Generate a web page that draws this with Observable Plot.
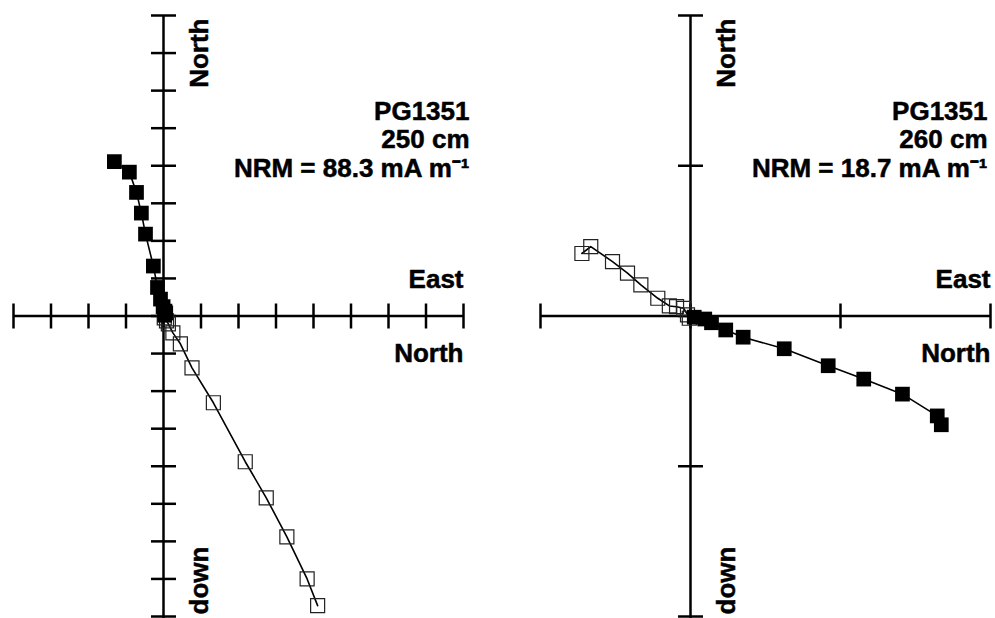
<!DOCTYPE html>
<html>
<head>
<meta charset="utf-8">
<script src="https://cdn.jsdelivr.net/npm/d3@7"></script>
<script src="https://cdn.jsdelivr.net/npm/@observablehq/plot@0.6"></script>
<style>
  html, body { margin: 0; padding: 0; background: #fff; }
  #chart { display: flex; width: 995px; height: 618px; overflow: hidden; }
  #chart svg { overflow: visible; }
</style>
</head>
<body>
<div id="chart"></div>
<script>
// Demagnetisation steps, NRM first; components in mA m^-1.
// Filled squares: horizontal plane (East, North); open squares: vertical plane (North, down).

// Core PG1351, 250 cm
const east250  = [-13.1, -9.1, -7.2, -5.9, -4.8, -2.7, -1.6, -0.8, -0.1, 0.4, 0.6, 0.3];
const north250 = [41.1, 38.3, 32.9, 27.4, 21.8, 13.3, 7.6, 4.5, 2.5, 1.3, 0.8, 0.2];
const down250  = [77.1, 70.0, 58.8, 48.4, 38.8, 23.1, 13.8, 7.4, 4.5, 2.1, 1.3, 0.5];

// Core PG1351, 260 cm
const east260  = [16.72, 16.45, 14.13, 11.55, 9.18, 6.25, 3.51, 2.35, 1.40, 0.95, 0.25];
const north260 = [-7.24, -6.65, -5.20, -4.20, -3.31, -2.18, -1.41, -0.93, -0.45, -0.20, -0.08];
const down260  = [-4.16, -4.62, -3.62, -2.85, -2.07, -1.18, -0.67, -0.62, -0.51, -0.07, 0.15];

// Axis extents and tick positions (mA m^-1)
const xDomain250 = [-40, 80], yDomain250 = [-80, 80];
const xTicks250 = d3.range(-40, 81, 10), yTicks250 = d3.range(-80, 81, 10);
const xDomain260 = [-10, 20], yDomain260 = [-20, 20];
const xTicks260 = [-10, 0, 10, 20], yTicks260 = [-20, -10, 0, 10, 20];

const label250 = "PG1351\n250 cm\nNRM = 88.3 mA m\u207B\u00B9";
const label260 = "PG1351\n260 cm\nNRM = 18.7 mA m\u207B\u00B9";

const FONT = "'Liberation Sans', Arial, Helvetica, sans-serif";
const TICK = 12.5;
const vTick = {draw(ctx) { ctx.moveTo(0, -TICK); ctx.lineTo(0, TICK); }};
const hTick = {draw(ctx) { ctx.moveTo(-TICK, 0); ctx.lineTo(TICK, 0); }};

function zijderveld({east, north, down, xDomain, yDomain, xTicks, yTicks,
                     width, marginLeft, marginRight, label, labelDx}) {
  const steps = east.map((e, i) => ({e, n: north[i], up: -down[i]}));
  const txt = {fill: "black", stroke: "black", strokeWidth: 0.5, fontSize: 26,
               fontWeight: "bold", fontFamily: FONT};
  return Plot.plot({
    width, height: 618,
    marginTop: 15, marginBottom: 2, marginLeft, marginRight,
    x: {domain: xDomain, axis: null},
    y: {domain: yDomain, axis: null},
    style: {background: "white", overflow: "visible"},
    marks: [
      // axes through the origin
      Plot.ruleY([0], {stroke: "black", strokeWidth: 2.5}),
      Plot.ruleX([0], {stroke: "black", strokeWidth: 2.5, insetBottom: -2}),
      Plot.dot(xTicks, {x: d => d, y: () => 0, symbol: vTick, fill: "none", stroke: "black", strokeWidth: 2.5}),
      Plot.dot(yTicks, {x: () => 0, y: d => d, symbol: hTick, fill: "none", stroke: "black", strokeWidth: 2.5}),
      // vertical-plane projection
      Plot.line(steps, {x: "n", y: "up", stroke: "black", strokeWidth: 1.6}),
      Plot.dot(steps, {x: "n", y: "up", symbol: "square", r: 7.9, fill: "none", stroke: "#222", strokeWidth: 1.2}),
      // horizontal-plane projection
      Plot.line(steps, {x: "e", y: "n", stroke: "black", strokeWidth: 1.6}),
      Plot.dot(steps, {x: "e", y: "n", symbol: "square", r: 8.3, fill: "black", stroke: "none"}),
      // axis labels
      Plot.text(["North"], {x: () => 0, y: () => yDomain[1], text: d => d, rotate: -90,
        textAnchor: "end", lineAnchor: "middle", dx: 36, dy: 3, ...txt}),
      Plot.text(["down"], {x: () => 0, y: () => yDomain[0], text: d => d, rotate: -90,
        textAnchor: "start", lineAnchor: "middle", dx: 36, dy: -2, ...txt}),
      Plot.text(["East"], {x: () => xDomain[1], y: () => 0, text: d => d,
        textAnchor: "end", lineAnchor: "bottom", dy: -28, ...txt}),
      Plot.text(["North"], {x: () => xDomain[1], y: () => 0, text: d => d,
        textAnchor: "end", lineAnchor: "bottom", dy: 46, ...txt}),
      // sample annotation
      Plot.text([label], {text: d => d, frameAnchor: "top-right", textAnchor: "end",
        lineAnchor: "top", lineHeight: 1.1, dx: labelDx, dy: 84, ...txt})
    ]
  });
}

const chart = document.getElementById("chart");
chart.append(zijderveld({
  east: east250, north: north250, down: down250,
  xDomain: xDomain250, yDomain: yDomain250, xTicks: xTicks250, yTicks: yTicks250,
  width: 497, marginLeft: 13, marginRight: 34, label: label250, labelDx: 6
}));
chart.append(zijderveld({
  east: east260, north: north260, down: down260,
  xDomain: xDomain260, yDomain: yDomain260, xTicks: xTicks260, yTicks: yTicks260,
  width: 498, marginLeft: 43, marginRight: 5, label: label260, labelDx: -3
}));
</script>
</body>
</html>
